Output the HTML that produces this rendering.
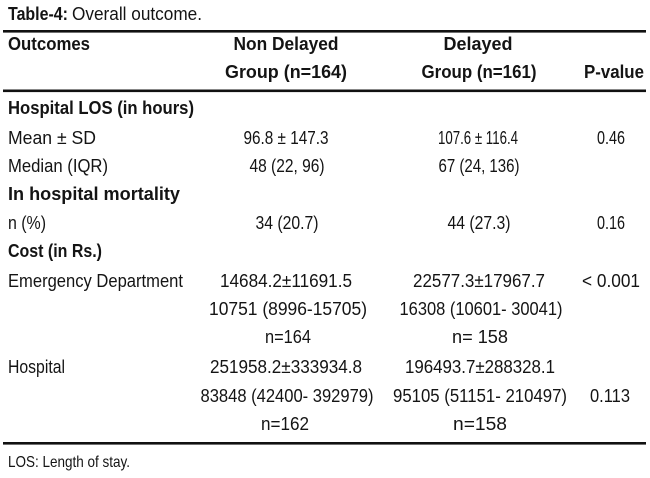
<!DOCTYPE html>
<html>
<head>
<meta charset="utf-8">
<style>
  html, body { margin: 0; padding: 0; background: #fff; }
  svg { display: block; }
  text { font-family: "Liberation Sans", Arial, sans-serif; font-size: 18.5px; fill: #141414; }
  .b { font-weight: bold; }
  .m { text-anchor: middle; }
</style>
</head>
<body>
<svg width="650" height="478" viewBox="0 0 650 478" xmlns="http://www.w3.org/2000/svg">
  <rect x="0" y="0" width="650" height="478" fill="#fff"/>

  <!-- Title -->
  <text class="b" x="8" y="20" textLength="60" lengthAdjust="spacingAndGlyphs">Table-4:</text>
  <text x="72" y="20" textLength="130" lengthAdjust="spacingAndGlyphs">Overall outcome.</text>

  <!-- Rules -->
  <rect x="3" y="30" width="643" height="2.6" fill="#111"/>
  <rect x="3" y="89.5" width="643" height="2.6" fill="#111"/>
  <rect x="3" y="442" width="643" height="2.6" fill="#111"/>

  <!-- Header -->
  <text class="b" x="8" y="50" textLength="82" lengthAdjust="spacingAndGlyphs">Outcomes</text>
  <text class="b m" x="286" y="50" textLength="105" lengthAdjust="spacingAndGlyphs">Non Delayed</text>
  <text class="b m" x="478" y="50" textLength="69" lengthAdjust="spacingAndGlyphs">Delayed</text>
  <text class="b m" x="286" y="78" textLength="122" lengthAdjust="spacingAndGlyphs">Group (n=164)</text>
  <text class="b m" x="479" y="78" textLength="115" lengthAdjust="spacingAndGlyphs">Group (n=161)</text>
  <text class="b m" x="614" y="78" textLength="60" lengthAdjust="spacingAndGlyphs">P-value</text>

  <!-- Hospital LOS -->
  <text class="b" x="8" y="114" textLength="186" lengthAdjust="spacingAndGlyphs">Hospital LOS (in hours)</text>

  <text x="8" y="144" textLength="88" lengthAdjust="spacingAndGlyphs">Mean ± SD</text>
  <text class="m" x="286" y="144" textLength="85" lengthAdjust="spacingAndGlyphs">96.8 ± 147.3</text>
  <text class="m" x="478" y="144" textLength="80" lengthAdjust="spacingAndGlyphs">107.6 ± 116.4</text>
  <text class="m" x="611" y="144" textLength="28" lengthAdjust="spacingAndGlyphs">0.46</text>

  <text x="8" y="172" textLength="100" lengthAdjust="spacingAndGlyphs">Median (IQR)</text>
  <text class="m" x="287" y="172" textLength="75" lengthAdjust="spacingAndGlyphs">48 (22, 96)</text>
  <text class="m" x="479" y="172" textLength="81" lengthAdjust="spacingAndGlyphs">67 (24, 136)</text>

  <!-- Mortality -->
  <text class="b" x="8" y="200" textLength="172" lengthAdjust="spacingAndGlyphs">In hospital mortality</text>

  <text x="8" y="229" textLength="38" lengthAdjust="spacingAndGlyphs">n (%)</text>
  <text class="m" x="287" y="229" textLength="63" lengthAdjust="spacingAndGlyphs">34 (20.7)</text>
  <text class="m" x="479" y="229" textLength="63" lengthAdjust="spacingAndGlyphs">44 (27.3)</text>
  <text class="m" x="611" y="229" textLength="28" lengthAdjust="spacingAndGlyphs">0.16</text>

  <!-- Cost -->
  <text class="b" x="8" y="257" textLength="94" lengthAdjust="spacingAndGlyphs">Cost (in Rs.)</text>

  <text x="8" y="287" textLength="175" lengthAdjust="spacingAndGlyphs">Emergency Department</text>
  <text class="m" x="286" y="287" textLength="132" lengthAdjust="spacingAndGlyphs">14684.2±11691.5</text>
  <text class="m" x="479" y="287" textLength="132" lengthAdjust="spacingAndGlyphs">22577.3±17967.7</text>
  <text class="m" x="611" y="287" textLength="58" lengthAdjust="spacingAndGlyphs">&lt; 0.001</text>

  <text class="m" x="288" y="315" textLength="158" lengthAdjust="spacingAndGlyphs">10751 (8996-15705)</text>
  <text class="m" x="481" y="315" textLength="163" lengthAdjust="spacingAndGlyphs">16308 (10601- 30041)</text>

  <text class="m" x="288" y="343" textLength="46" lengthAdjust="spacingAndGlyphs">n=164</text>
  <text class="m" x="480" y="343" textLength="56" lengthAdjust="spacingAndGlyphs">n= 158</text>

  <text x="8" y="373" textLength="57" lengthAdjust="spacingAndGlyphs">Hospital</text>
  <text class="m" x="286" y="373" textLength="152" lengthAdjust="spacingAndGlyphs">251958.2±333934.8</text>
  <text class="m" x="480" y="373" textLength="150" lengthAdjust="spacingAndGlyphs">196493.7±288328.1</text>

  <text class="m" x="287" y="402" textLength="173" lengthAdjust="spacingAndGlyphs">83848 (42400- 392979)</text>
  <text class="m" x="480" y="402" textLength="174" lengthAdjust="spacingAndGlyphs">95105 (51151- 210497)</text>
  <text class="m" x="610" y="402" textLength="40" lengthAdjust="spacingAndGlyphs">0.113</text>

  <text class="m" x="285" y="430" textLength="48" lengthAdjust="spacingAndGlyphs">n=162</text>
  <text class="m" x="480" y="430" textLength="54" lengthAdjust="spacingAndGlyphs">n=158</text>

  <!-- Footnote -->
  <text x="8" y="467" style="font-size:16px" textLength="122" lengthAdjust="spacingAndGlyphs">LOS: Length of stay.</text>
</svg>
</body>
</html>
